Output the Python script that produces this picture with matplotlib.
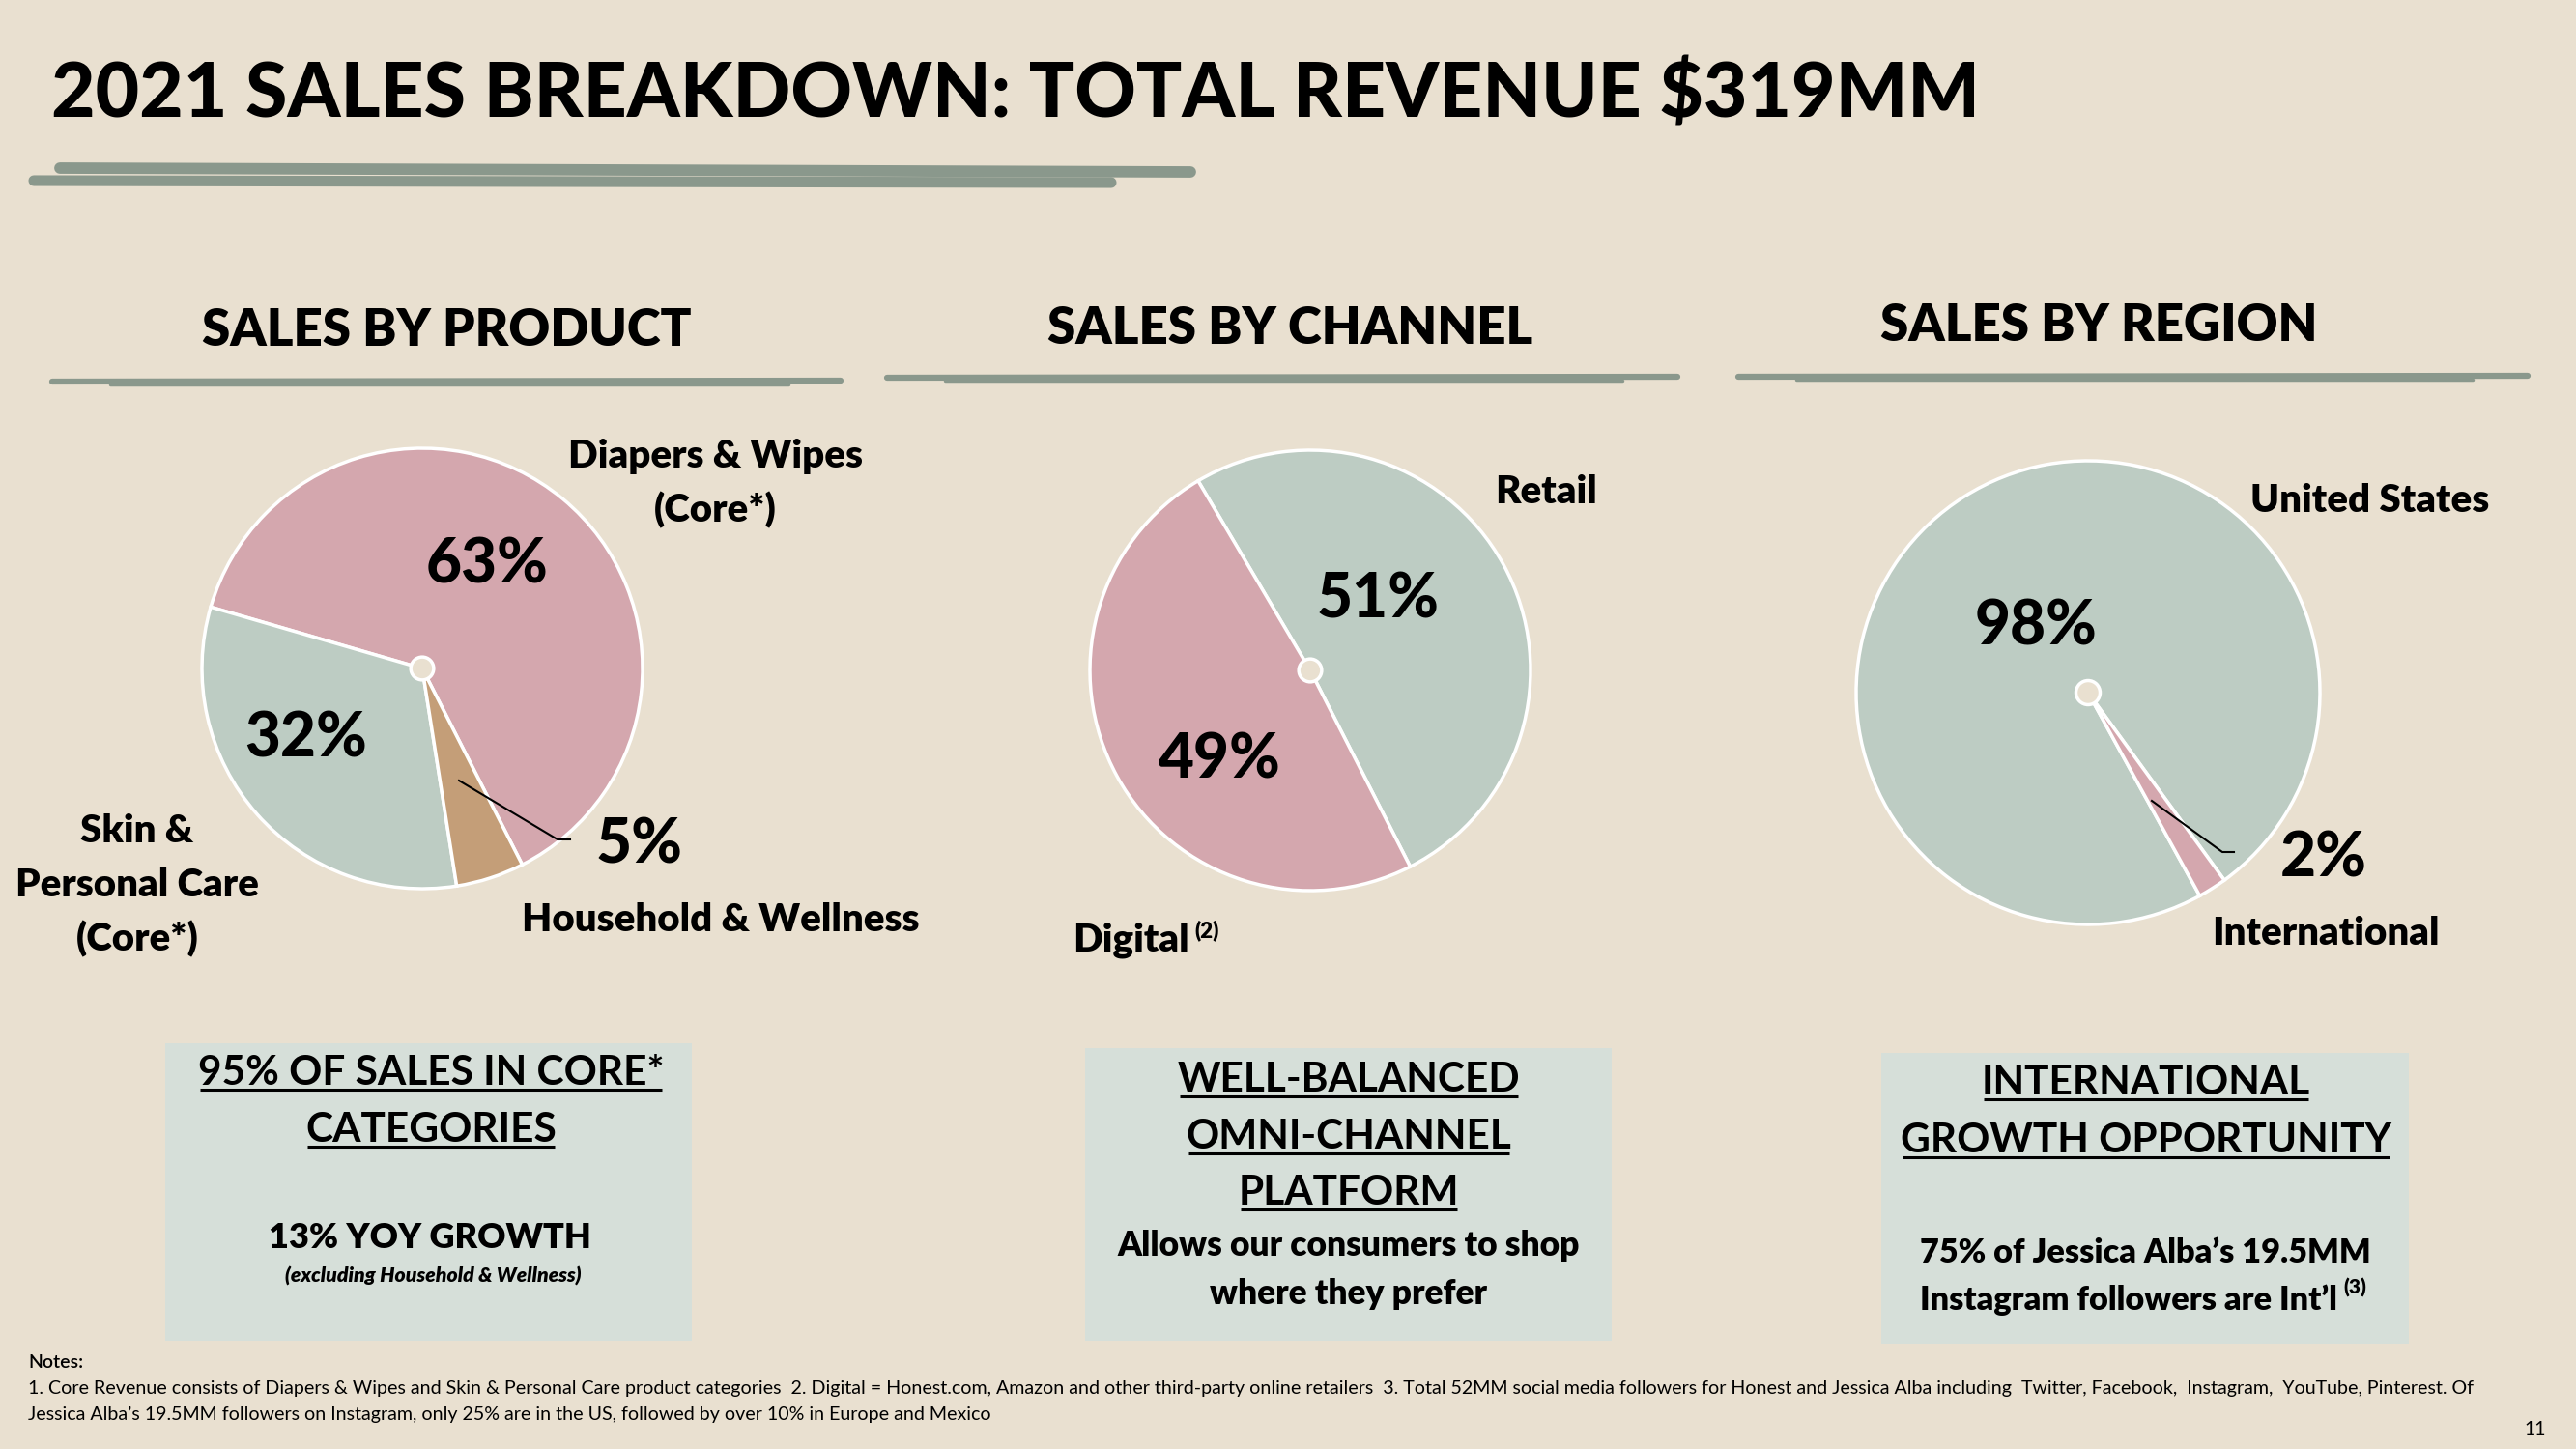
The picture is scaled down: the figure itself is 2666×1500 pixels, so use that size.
import matplotlib
matplotlib.use("Agg")
import matplotlib.pyplot as plt
from matplotlib.patches import Rectangle, Circle

# ---------------- data ----------------
title_text = "2021 SALES BREAKDOWN: TOTAL REVENUE $319MM"
section_titles = ["SALES BY PRODUCT", "SALES BY CHANNEL", "SALES BY REGION"]

product_labels = ["Diapers & Wipes\n(Core*)", "Skin &\nPersonal Care\n(Core*)", "Household & Wellness"]
product_values = [63, 32, 5]
channel_labels = ["Retail", "Digital"]
channel_values = [51, 49]
channel_sup = "(2)"
region_labels = ["United States", "International"]
region_values = [98, 2]

box1_head = ["95% OF SALES IN CORE*", "CATEGORIES"]
box1_body = ["13% YOY GROWTH"]
box1_note = "(excluding Household & Wellness)"
box2_head = ["WELL-BALANCED", "OMNI-CHANNEL", "PLATFORM"]
box2_body = ["Allows our consumers to shop", "where they prefer"]
box3_head = ["INTERNATIONAL", "GROWTH OPPORTUNITY"]
box3_body = ["75% of Jessica Alba\u2019s 19.5MM", "Instagram followers are Int\u2019l"]
box3_sup = "(3)"

notes_title = "Notes:"
notes_lines = [
    "1. Core Revenue consists of Diapers & Wipes and Skin & Personal Care product categories  2. Digital = Honest.com, Amazon and other third-party online retailers  3. Total 52MM social media followers for Honest and Jessica Alba including  Twitter, Facebook,  Instagram,  YouTube, Pinterest. Of",
    "Jessica Alba\u2019s 19.5MM followers on Instagram, only 25% are in the US, followed by over 10% in Europe and Mexico",
]
page_number = "11"

# ---------------- style ----------------
W, H = 2666, 1500
BG = "#e9e0d0"
PINK = "#d4a7ae"
SAGE = "#bdccc3"
TAN = "#c49e78"
BOXC = "#d6dfd9"
BRUSH = "#8a988c"
FONT = ["Lato", "DejaVu Sans"]

plt.rcParams["font.family"] = FONT

fig = plt.figure(figsize=(W / 100, H / 100), dpi=100, facecolor=BG)


def pie_axes(cx, cy, r):
    m = 1.04
    return fig.add_axes([(cx - r * m) / W, 1 - (cy + r * m) / H, 2 * r * m / W, 2 * r * m / H])


def draw_pie(cx, cy, r, values, colors, start):
    ax = pie_axes(cx, cy, r)
    ax.pie(values, colors=colors, startangle=start, counterclock=True, radius=1,
           wedgeprops=dict(edgecolor="white", linewidth=2.5))
    ax.add_patch(Circle((0, 0), 0.052, facecolor=BG, edgecolor="white", lw=2.5, zorder=5))
    ax.set_xlim(-1.04, 1.04)
    ax.set_ylim(-1.04, 1.04)
    ax.set_aspect("equal")
    ax.axis("off")
    return ax


draw_pie(437, 692, 228, product_values, [PINK, SAGE, TAN], -63)
draw_pie(1356, 694, 228, channel_values, [SAGE, PINK], -63)
draw_pie(2161, 717, 240, region_values, [SAGE, PINK], -54)

# overlay in pixel coordinates
ov = fig.add_axes([0, 0, 1, 1], zorder=10)
ov.set_xlim(0, W)
ov.set_ylim(H, 0)
ov.axis("off")
ov.patch.set_alpha(0)


def put(x, y, s, size, weight="bold", ha="center", style="normal"):
    return ov.text(x, y, s, fontsize=size, fontweight=weight, ha=ha, va="baseline",
                   fontstyle=style, color="black", zorder=5)


def stroke(x0, y0, x1, y1, lw):
    ov.plot([x0, x1], [y0, y1], color=BRUSH, lw=lw, solid_capstyle="round", zorder=2)


# title + brush strokes
put(53, 121, title_text, 56.5, weight="black", ha="left")
stroke(62, 174, 1232, 178, 8.5)
stroke(35, 187, 1150, 189, 8.0)

# section headings and their strokes
put(462, 358, section_titles[0], 38, weight="heavy")
put(1335, 356, section_titles[1], 38, weight="heavy")
put(2172, 353, section_titles[2], 38, weight="heavy")
for (x0, x1, x2, y) in [(54, 870, 816, 395), (918, 1736, 1679, 391), (1799, 2616, 2559, 390)]:
    stroke(x0, y, x1, y - 1, 4.5)
    stroke(x0 + 60, y + 3, x2, y + 3, 2.5)

# ---------- pie 1 labels ----------
LBL = 29
put(504, 604, f"{product_values[0]}%", 46, weight="black")
put(317, 783, f"{product_values[1]}%", 46, weight="black")
put(662, 893, f"{product_values[2]}%", 46, weight="black")
for i, ln in enumerate(product_labels[0].split("\n")):
    put(740, 484 + 56 * i, ln, LBL, weight="heavy")
for i, ln in enumerate(product_labels[1].split("\n")):
    put(142, 872 + 56 * i, ln, LBL, weight="heavy")
put(746, 964, product_labels[2], LBL, weight="heavy")
ov.plot([475, 577, 590], [808, 869, 869], color="black", lw=1.5, zorder=4)

# ---------- pie 2 labels ----------
put(1426, 640, f"{channel_values[0]}%", 46, weight="black")
put(1262, 806, f"{channel_values[1]}%", 46, weight="black")
put(1600, 521, channel_labels[0], LBL, weight="heavy")
dig = put(1110, 985, channel_labels[1], LBL, weight="heavy", ha="left")

# ---------- pie 3 labels ----------
put(2107, 668, f"{region_values[0]}%", 46, weight="black")
put(2405, 907, f"{region_values[1]}%", 46, weight="black")
put(2453, 530, region_labels[0], LBL, weight="heavy")
put(2407, 978, region_labels[1], LBL, weight="heavy")
ov.plot([2227, 2300, 2312], [829, 882, 882], color="black", lw=1.5, zorder=4)

# ---------- boxes ----------
for (x0, y0, x1, y1) in [(171, 1080, 716, 1388), (1123, 1085, 1668, 1388), (1947, 1090, 2493, 1391)]:
    ov.add_patch(Rectangle((x0, y0), x1 - x0, y1 - y0, facecolor=BOXC, edgecolor="none", zorder=1))

HEAD = 30.5
underlined = []
underlined.append(put(446, 1123, box1_head[0], HEAD))
underlined.append(put(446, 1182, box1_head[1], HEAD))
put(445, 1292, box1_body[0], 26, weight="heavy")
put(448, 1328, box1_note, 15.3, weight="heavy", style="italic")

for ln, yb in zip(box2_head, [1130, 1189, 1247]):
    underlined.append(put(1396, yb, ln, HEAD))
put(1396, 1300, box2_body[0], 25.5, weight="heavy")
put(1396, 1350, box2_body[1], 25.5, weight="heavy")

for ln, yb in zip(box3_head, [1133, 1193]):
    underlined.append(put(2221, yb, ln, HEAD))
put(2220, 1307, box3_body[0], 24.7, weight="heavy")
b3 = put(2203, 1356, box3_body[1], 24.7, weight="heavy")

# ---------- notes ----------
put(29, 1416, notes_title, 14, weight="semibold", ha="left")
put(29, 1443, notes_lines[0], 14.1, weight="normal", ha="left")
put(29, 1470, notes_lines[1], 14.1, weight="normal", ha="left")
put(2635, 1485, page_number, 14, weight="normal", ha="right")

# ---------- underlines & superscripts (need text extents) ----------
fig.canvas.draw()
rend = fig.canvas.get_renderer()
for t in underlined:
    bb = t.get_window_extent(rend)
    yb = t.get_position()[1] + 5
    ov.plot([bb.x0 + 2, bb.x1 - 2], [yb, yb], color="black", lw=2.2, zorder=5,
            solid_capstyle="butt")

bb = dig.get_window_extent(rend)
put(bb.x1 + 6, 970, channel_sup, 16, weight="heavy", ha="left")
bb = b3.get_window_extent(rend)
put(bb.x1 + 6, 1340, box3_sup, 15, weight="heavy", ha="left")

fig.savefig("out.png", dpi=100, facecolor=BG)
